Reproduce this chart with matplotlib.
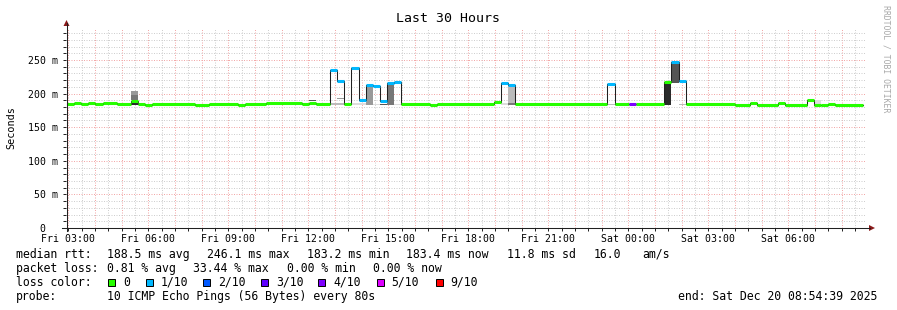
import matplotlib
matplotlib.use('Agg')
import matplotlib.pyplot as plt
from matplotlib.lines import Line2D
from matplotlib.patches import Polygon, Rectangle
from matplotlib.ticker import MultipleLocator, FuncFormatter

plt.rcParams['font.family'] = ['DejaVu Sans Mono']

W, H = 897, 310

# median rtt, one entry per run of 16 minute steps
seg_start = ['Fri 02:57', 'Fri 03:13', 'Fri 03:29', 'Fri 03:45', 'Fri 04:01', 'Fri 04:17',
             'Fri 04:49', 'Fri 05:21', 'Fri 05:37', 'Fri 05:53', 'Fri 06:09', 'Fri 07:45',
             'Fri 08:17', 'Fri 09:21', 'Fri 09:37', 'Fri 10:25', 'Fri 11:45', 'Fri 12:01',
             'Fri 12:17', 'Fri 12:49', 'Fri 13:05', 'Fri 13:21', 'Fri 13:37', 'Fri 13:53',
             'Fri 14:09', 'Fri 14:25', 'Fri 14:41', 'Fri 14:57', 'Fri 15:13', 'Fri 15:29',
             'Fri 16:33', 'Fri 16:49', 'Fri 18:57', 'Fri 19:13', 'Fri 19:29', 'Fri 19:45',
             'Fri 23:13', 'Fri 23:29', 'Sat 00:01', 'Sat 00:17', 'Sat 01:21', 'Sat 01:37',
             'Sat 01:53', 'Sat 02:09', 'Sat 04:01', 'Sat 04:33', 'Sat 04:49', 'Sat 05:37',
             'Sat 05:53', 'Sat 06:41', 'Sat 06:57', 'Sat 07:13', 'Sat 07:29', 'Sat 07:45']
seg_end = 'Sat 08:49'
median_ms = [184.5, 186.5, 184.5, 186.5, 184.5, 186.5,
             184.5, 189.0, 184.5, 183.3, 184.5, 183.3,
             184.5, 183.3, 184.5, 186.0, 184.5, 186.5,
             184.5, 235.0, 218.0, 184.5, 238.5, 190.0,
             212.8, 212.0, 189.5, 215.0, 217.0, 184.5,
             183.3, 184.5, 187.0, 215.0, 213.0, 184.5,
             213.8, 184.5, 184.5, 184.5, 217.0, 247.0,
             218.7, 185.0, 183.5, 185.5, 183.5, 185.5,
             183.5, 190.0, 183.2, 183.3, 184.0, 183.4]
lost_pings = [0, 0, 0, 0, 0, 0,
              0, 0, 0, 0, 0, 0,
              0, 0, 0, 0, 0, 0,
              0, 1, 1, 0, 1, 1,
              1, 1, 1, 1, 1, 0,
              0, 0, 0, 1, 1, 0,
              1, 0, 4, 0, 0, 1,
              1, 0, 0, 0, 0, 0,
              0, 0, 0, 0, 0, 0]

# smoke bands (ping spread), shade 0 = lightest .. 5 = darkest
smoke_from = ['Fri 05:21', 'Fri 05:21', 'Fri 05:21', 'Fri 12:01', 'Fri 12:49', 'Fri 13:05',
              'Fri 13:37', 'Fri 14:09', 'Fri 14:25', 'Fri 14:41', 'Fri 14:57', 'Fri 15:13',
              'Fri 19:13', 'Fri 19:29', 'Fri 19:29', 'Fri 23:13', 'Sat 01:21', 'Sat 01:37',
              'Sat 01:53', 'Sat 06:57']
smoke_to = ['Fri 05:37', 'Fri 05:37', 'Fri 05:37', 'Fri 12:17', 'Fri 13:21', 'Fri 13:21',
            'Fri 14:09', 'Fri 14:25', 'Fri 14:41', 'Fri 14:57', 'Fri 15:13', 'Fri 15:29',
            'Fri 19:29', 'Fri 19:45', 'Fri 19:45', 'Fri 23:29', 'Sat 01:37', 'Sat 01:53',
            'Sat 02:09', 'Sat 07:13']
smoke_lo = [198, 190, 183, 188.5, 183, 192.5,
            183, 183, 183, 183, 183, 183,
            183, 185, 183, 183, 183, 216,
            183, 183]
smoke_hi = [204, 198, 188, 190.5, 185.5, 194,
            186, 211, 185, 185, 214, 185,
            185.5, 211, 186, 185, 215, 246,
            184.5, 190]
smoke_shade = [2, 3, 5, 4, 1, 2,
               0, 2, 0, 4, 3, 0,
               0, 1, 3, 1, 5, 4,
               1, 0]

loss_labels = ['0', '1/10', '2/10', '3/10', '4/10', '5/10', '9/10']
loss_colors = ['#26ff00', '#00b8ff', '#0059ff', '#5e00ff', '#7e00ff', '#dd00ff', '#ff0000']

gray_shades = ['#dddddd', '#bbbbbb', '#999999', '#777777', '#555555', '#2a2a2a']


def hours(label):
    day, hm = label.split()
    h, m = hm.split(':')
    return (24 if day == 'Sat' else 0) + int(h) + int(m) / 60


def loss_color(n):
    for lab, col in zip(loss_labels[::-1], loss_colors[::-1]):
        if n >= int(lab.split('/')[0]):
            return col
    return loss_colors[0]


def px(x, y):
    return x / W, 1 - y / H


fig = plt.figure(figsize=(W / 100, H / 100), dpi=100)
fig.patch.set_facecolor('white')
ax = fig.add_axes([66 / W, 1 - 228 / H, 800 / W, 200.3 / H])
ax.set_xlim(2 + 54 / 60 + 39 / 3600, 32 + 54 / 60 + 39 / 3600)
ax.set_ylim(0, 298)
for s in ax.spines.values():
    s.set_visible(False)

# grid
ax.xaxis.set_major_locator(MultipleLocator(1))
ax.xaxis.set_minor_locator(MultipleLocator(0.5))
ax.yaxis.set_major_locator(MultipleLocator(50))
ax.yaxis.set_minor_locator(MultipleLocator(10))
ax.grid(which='minor', color='#cfcfcf', linewidth=0.72, linestyle=(0, (1, 1.5)))
ax.grid(which='major', color='#f2a8a8', linewidth=0.72, linestyle=(0, (1, 1.5)))
ax.set_axisbelow(True)


def xfmt(v, pos):
    h = int(round(v))
    if h % 3:
        return ''
    return f"{'Fri' if h < 24 else 'Sat'} {h % 24:02d}:00"


def yfmt(v, pos):
    return '0  ' if v == 0 else f'{int(v)} m'


ax.xaxis.set_major_formatter(FuncFormatter(xfmt))
ax.yaxis.set_major_formatter(FuncFormatter(yfmt))
ax.tick_params(axis='both', which='both', length=2, width=0.7, color='#202020',
               labelsize=7.1, direction='out')
ax.tick_params(axis='x', pad=2)
ax.tick_params(axis='y', pad=4)

# smoke
for f, t, lo, hi, sh in zip(smoke_from, smoke_to, smoke_lo, smoke_hi, smoke_shade):
    ax.bar(hours(f), hi - lo, bottom=lo, width=hours(t) - hours(f), align='edge',
           color=gray_shades[sh], linewidth=0, zorder=2)

# median line, dark step underneath, loss coloured segments on top
starts = [hours(s) for s in seg_start]
ends = starts[1:] + [hours(seg_end)]
ax.step(starts + [ends[-1]], median_ms + [median_ms[-1]], where='post',
        color='#202020', linewidth=0.75, zorder=3)
ax.hlines(median_ms, starts, ends, colors=[loss_color(n) for n in lost_pings],
          linewidth=2.2, zorder=4, capstyle='butt')

# axes lines and arrows
fig.add_artist(Line2D([62 / W, 870 / W], [1 - 228 / H] * 2, color='#202020', lw=0.75))
fig.add_artist(Line2D([66.5 / W] * 2, [1 - 231 / H, 1 - 23 / H], color='#202020', lw=0.75))
fig.add_artist(Polygon([px(869, 225), px(875, 228), px(869, 231)], closed=True,
                       color='#8b1a1a', lw=0))
fig.add_artist(Polygon([px(63.5, 26), px(66.5, 20), px(69.5, 26)], closed=True,
                       color='#8b1a1a', lw=0))

# titles
fig.text(*px(448, 19), 'Last 30 Hours', fontsize=9.5, ha='center', va='center')
fig.text(*px(11, 128), 'Seconds', fontsize=7.3, rotation=90, ha='center', va='center')
fig.text(*px(886, 59), 'RRDTOOL / TOBI OETIKER', fontsize=5.9, rotation=270,
         ha='center', va='center', color='#a8a8a8')

# legend block
fs = 8.3
rows = [
    (254.3, [(16, 'median rtt:'), (107.3, '188.5 ms avg'), (207.3, '246.1 ms max'),
             (307.3, '183.2 ms min'), (406, '183.4 ms now'), (507.3, '11.8 ms sd'),
             (593.3, '16.0'), (642.7, 'am/s')]),
    (268.3, [(16, 'packet loss:'), (107.3, '0.81 % avg'), (193.3, '33.44 % max'),
             (286.7, '0.00 % min'), (372.7, '0.00 % now')]),
    (282.3, [(16, 'loss color:')]),
    (296.2, [(16, 'probe:'), (107.3, '10 ICMP Echo Pings (56 Bytes) every 80s'),
             (678.3, 'end: Sat Dec 20 08:54:39 2025')]),
]
for y, items in rows:
    for x, s in items:
        fig.text(*px(x, y), s, fontsize=fs, ha='left', va='center')

box_x = [108, 145.7, 203.3, 261, 318.3, 376.7, 435.7]
for bx, lab, col in zip(box_x, loss_labels, loss_colors):
    fig.add_artist(Rectangle(px(bx, 286), 7 / W, 7 / H, facecolor=col,
                             edgecolor='black', lw=0.7))
    fig.text(*px(bx + 15, 282.3), lab, fontsize=fs, ha='left', va='center')

fig.savefig('out.png', dpi=100, facecolor='white')
